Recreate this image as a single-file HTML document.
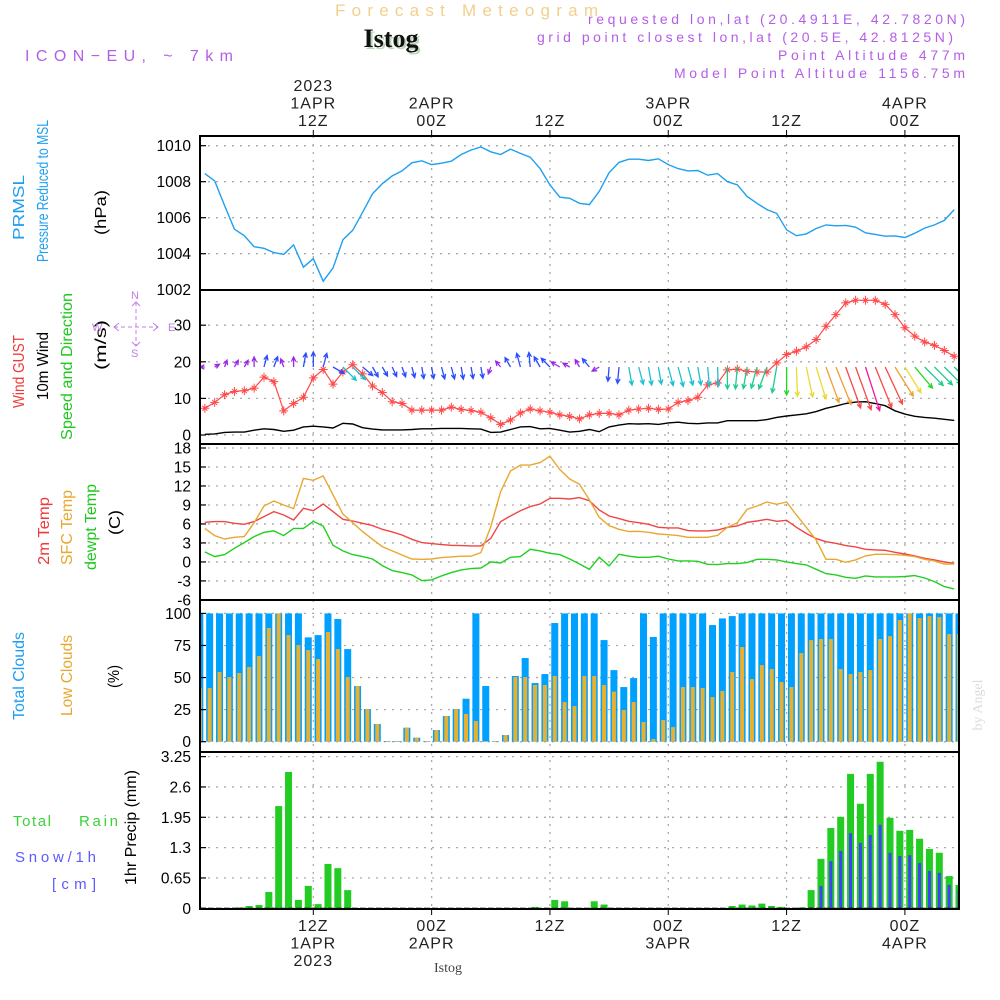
<!DOCTYPE html>
<html><head><meta charset="utf-8">
<style>
html,body{margin:0;padding:0;background:#fff;}
svg{display:block;font-family:"Liberation Sans",sans-serif;}
</style></head>
<body>
<svg id="chart" width="1000" height="1000" viewBox="0 0 1000 1000" xmlns="http://www.w3.org/2000/svg">
<defs>
<clipPath id="clip"><rect x="200" y="136" width="759" height="773"/></clipPath>
</defs>
<!-- header -->
<text x="335" y="16" font-size="17" fill="#f3cf8c" textLength="263" lengthAdjust="spacing">Forecast Meteogram</text>
<text x="393" y="49" text-anchor="middle" font-size="26" font-weight="bold" font-family="Liberation Serif,serif" fill="#bcd6bc">Istog</text>
<text x="391" y="47" text-anchor="middle" font-size="26" font-weight="bold" font-family="Liberation Serif,serif" fill="#111">Istog</text>
<text x="25" y="61" font-size="16" fill="#b45ee6" textLength="208" lengthAdjust="spacing">ICON−EU, ~ 7km</text>
<g font-size="14" fill="#b45ee6" lengthAdjust="spacing">
<text x="588" y="24" textLength="377" lengthAdjust="spacing">requested lon,lat (20.4911E, 42.7820N)</text>
<text x="537" y="42" textLength="416" lengthAdjust="spacing">grid point closest lon,lat (20.5E, 42.8125N)</text>
<text x="778" y="60" textLength="187" lengthAdjust="spacing">Point Altitude 477m</text>
<text x="674" y="78" textLength="291" lengthAdjust="spacing">Model Point Altitude 1156.75m</text>
</g>
<g id="plots"></g>
<g id="frame"></g>
<!-- left labels -->
<g font-size="16">
<text transform="translate(24,240) rotate(-90)" fill="#1e9ef0" textLength="65" lengthAdjust="spacingAndGlyphs">PRMSL</text>
<text transform="translate(48,262) rotate(-90)" fill="#1e9ef0" textLength="142" lengthAdjust="spacingAndGlyphs">Pressure Reduced to MSL</text>
<text transform="translate(106,235) rotate(-90)" fill="#000" textLength="45" lengthAdjust="spacingAndGlyphs">(hPa)</text>
</g>
<g font-size="16">
<text transform="translate(24,408) rotate(-90)" fill="#f03a3a" textLength="73" lengthAdjust="spacingAndGlyphs">Wind GUST</text>
<text transform="translate(48,400) rotate(-90)" fill="#000" textLength="68" lengthAdjust="spacingAndGlyphs">10m Wind</text>
<text transform="translate(72,440) rotate(-90)" fill="#1ec81e" textLength="147" lengthAdjust="spacingAndGlyphs">Speed and Direction</text>
<text transform="translate(106,370) rotate(-90)" fill="#000" textLength="50" lengthAdjust="spacingAndGlyphs">(m/s)</text>
</g>
<g fill="#c07ee8" stroke="#c07ee8" font-size="11">
<text x="92" y="331" stroke="none">W</text>
<text x="131" y="299" stroke="none">N</text>
<text x="131" y="357" stroke="none">S</text>
<text x="168" y="331" stroke="none">E</text>
<line x1="136" y1="302" x2="136" y2="346" stroke-dasharray="4,3"/>
<line x1="114" y1="327" x2="158" y2="327" stroke-dasharray="4,3"/>
<polyline points="119,323 114,327 119,331" fill="none"/>
<polyline points="153,323 158,327 153,331" fill="none"/>
<polyline points="132,306 136,302 140,306" fill="none"/>
<polyline points="132,342 136,346 140,342" fill="none"/>
</g>
<g font-size="16">
<text transform="translate(49,565) rotate(-90)" fill="#f03a3a" textLength="68" lengthAdjust="spacingAndGlyphs">2m Temp</text>
<text transform="translate(72,565) rotate(-90)" fill="#e8a830" textLength="75" lengthAdjust="spacingAndGlyphs">SFC Temp</text>
<text transform="translate(96,570) rotate(-90)" fill="#1ec81e" textLength="86" lengthAdjust="spacingAndGlyphs">dewpt Temp</text>
<text transform="translate(120,535) rotate(-90)" fill="#000" textLength="25" lengthAdjust="spacingAndGlyphs">(C)</text>
</g>
<g font-size="16">
<text transform="translate(24,720) rotate(-90)" fill="#1e9ef0" textLength="88" lengthAdjust="spacingAndGlyphs">Total Clouds</text>
<text transform="translate(72,716) rotate(-90)" fill="#e8a830" textLength="81" lengthAdjust="spacingAndGlyphs">Low Clouds</text>
<text transform="translate(119,688) rotate(-90)" fill="#000" textLength="23" lengthAdjust="spacingAndGlyphs">(%)</text>
</g>
<g font-size="15">
<text x="13" y="826" fill="#3cd23c" textLength="38" lengthAdjust="spacing">Total</text>
<text x="79" y="826" fill="#3cd23c" textLength="39" lengthAdjust="spacing">Rain</text>
<text x="15" y="862" fill="#5a5aff" textLength="81" lengthAdjust="spacing">Snow/1h</text>
<text x="52" y="889" fill="#5a5aff" textLength="44" lengthAdjust="spacing">[cm]</text>
<text transform="translate(136,885) rotate(-90)" fill="#000" font-size="16" textLength="115" lengthAdjust="spacingAndGlyphs">1hr Precip (mm)</text>
</g>
<text transform="translate(982,705) rotate(-90)" text-anchor="middle" font-size="14" font-family="Liberation Serif,serif" fill="#dcdcdc">by Angel</text>
<text x="448" y="972" text-anchor="middle" font-size="14" font-family="Liberation Serif,serif" fill="#444">Istog</text>
</svg>
<script>
// ---- data (hourly, h = 1..77 from 00Z 1 APR) ----
const pressure = [1008.45,1008.04,1006.67,1005.36,1005.0,1004.39,1004.3,1004.06,1003.96,1004.49,1003.25,1003.72,1002.47,1003.2,1004.77,1005.3,1006.3,1007.33,1007.89,1008.32,1008.6,1009.05,1009.16,1008.95,1009.03,1009.14,1009.51,1009.76,1009.93,1009.66,1009.51,1009.81,1009.57,1009.36,1008.73,1007.83,1007.14,1007.08,1006.8,1006.73,1007.46,1008.5,1009.07,1009.25,1009.25,1009.18,1009.27,1008.95,1008.73,1008.6,1008.62,1008.36,1008.45,1008.0,1007.83,1007.18,1006.8,1006.45,1006.24,1005.33,1005.0,1005.1,1005.4,1005.6,1005.55,1005.57,1005.47,1005.16,1005.07,1004.97,1004.99,1004.9,1005.14,1005.42,1005.6,1005.85,1006.45];
const gust = [7.3,8.9,11.0,11.9,12.1,12.8,15.8,14.6,6.6,8.6,10.3,15.6,17.9,13.9,17.2,19.2,16.7,13.4,11.6,9.1,8.6,6.8,6.8,6.8,6.8,7.6,7.0,6.7,6.2,4.7,2.9,4.1,6.0,7.1,6.6,6.2,5.5,5.1,4.4,5.5,5.9,5.9,5.5,6.8,7.1,7.3,7.0,7.1,8.9,9.4,10.3,13.7,14.2,17.8,18.0,17.4,17.2,17.2,19.7,22.0,22.9,24.1,26.1,29.7,32.9,36.1,36.8,36.8,36.8,35.7,32.9,29.3,27.0,25.4,24.5,23.1,21.5];
const wind10 = [0.2,0.3,0.7,0.8,0.8,1.3,1.7,1.5,1.0,1.3,2.2,2.4,2.2,1.9,3.2,3.0,2.0,1.6,1.4,1.4,1.4,1.5,1.7,1.7,1.8,1.8,1.8,1.7,1.6,0.7,0.8,1.5,2.2,2.3,1.7,1.8,1.3,0.8,1.0,1.5,0.9,2.2,2.7,3.1,3.0,3.1,2.9,3.3,3.5,3.2,3.1,3.3,3.3,3.9,3.9,3.9,3.9,4.2,4.8,5.2,5.5,5.8,6.4,7.3,7.9,8.6,9.0,9.1,8.6,8.0,6.6,5.7,5.1,4.8,4.6,4.3,4.0];
const windDir = [270,60,20,30,30,0,15,20,340,0,10,0,15,120,135,135,130,150,150,155,160,165,170,170,165,165,170,170,170,200,320,330,345,355,330,315,300,300,330,320,240,185,185,170,165,170,170,165,165,165,170,175,178,180,185,190,195,200,190,180,178,168,163,160,158,160,160,162,158,155,148,148,140,135,135,135,135];
const temp2m = [6.26,6.37,6.37,6.1,5.95,6.37,7.16,7.95,7.42,6.63,8.47,8.1,9.16,7.95,6.74,6.47,6.1,5.74,5.16,4.74,4.26,3.58,3.05,2.9,2.74,2.63,2.58,2.53,2.53,3.74,6.37,7.26,8.1,8.74,9.16,10.05,10.05,9.95,10.16,9.68,8.2,7.26,6.84,6.42,6.2,5.95,5.47,5.37,5.37,4.95,4.9,4.9,5.05,5.47,5.68,6.26,6.47,6.74,6.42,6.58,5.47,4.5,3.68,3.2,2.95,2.58,2.37,2.0,1.9,1.84,1.53,1.26,0.95,0.58,0.32,0.0,-0.21];
const tempSfc = [5.3,4.16,3.63,3.9,4.0,6.2,8.84,9.63,9.0,8.42,13.2,12.9,13.6,10.6,7.58,6.2,4.8,3.58,2.42,1.74,1.1,0.47,0.42,0.47,0.68,0.79,0.9,0.9,1.47,5.58,11.1,14.37,15.3,15.3,15.7,16.7,14.6,13.1,12.26,9.8,7.05,5.74,5.16,4.8,4.84,4.68,4.42,4.3,4.16,3.9,3.9,3.9,4.2,5.47,6.2,8.3,8.84,9.47,9.1,9.47,7.42,5.47,3.47,0.42,0.42,-0.05,0.32,0.95,1.21,1.21,1.16,1.05,0.84,0.42,0.16,-0.32,-0.32];
const dewpt = [1.58,0.84,1.16,2.16,3.05,4.0,4.68,4.9,4.16,5.3,5.3,6.4,5.68,2.63,1.74,1.16,0.84,0.47,-0.58,-1.37,-1.68,-2.05,-2.95,-2.84,-2.2,-1.68,-1.26,-1.05,-0.95,0.0,-0.16,0.74,0.84,2.0,1.74,1.37,1.16,0.47,-0.32,-1.16,0.74,-0.63,1.21,0.9,0.74,0.74,0.9,0.47,0.16,0.16,0.1,-0.37,-0.42,-0.26,-0.26,-0.1,0.42,0.42,0.32,0.0,-0.26,-0.47,-1.16,-1.84,-2.05,-2.42,-2.58,-2.2,-2.37,-2.37,-2.37,-2.3,-2.16,-2.53,-3.1,-3.9,-4.26];
// bars: index i = 0..77
const totalCloud = [100,100,100,100,100,100,100,100,100,100,100,81.3,83.1,100,95.6,72.2,43.4,25.5,13.8,0.5,0.5,10.9,3.1,0.5,9.1,20,25.5,33.5,100,43.4,0.5,5.2,51.2,65.2,45.7,52.7,92.5,100,100,100,100,79.2,55.8,42.6,49.6,100,81.6,100,100,100,100,100,90.9,96.1,97.9,100,100,100,100,100,100,100,100,100,100,100,100,100,100,100,100,100,100,100,100,100,100,100];
const lowCloud = [41.8,41.8,54.3,50.4,53.5,58.2,66.8,88.6,100,83.1,75.3,71.4,64.4,85.5,72.2,50.4,43.4,25.5,13.8,0.5,0.5,10.9,3.1,0.5,9.1,20,25.5,21.6,16.1,0.5,0.5,5.2,50.4,50.4,44.2,44.2,51.2,30.9,27.8,51.2,51.2,44.2,39,24.7,30.9,15.3,2.1,16.9,11.4,42.6,42.6,41.8,34.8,39.5,54.3,73.8,48.8,59.7,56.6,46.5,42.6,69.1,79.2,80,80,56.6,52.7,54.3,55.8,80,82.3,94.8,100,96.4,97.9,97.1,83.9,83.9];
const rain = [0,0,0,0,0.02,0.05,0.07,0.35,2.19,2.92,0.18,0.48,0.09,0.95,0.86,0.39,0,0,0,0,0,0,0,0,0,0,0,0,0,0,0,0,0,0,0.03,0,0.18,0.15,0,0,0.15,0.08,0,0,0,0,0,0,0,0,0,0,0,0,0.05,0.08,0.06,0.1,0.05,0.03,0,0.02,0.39,1.06,1.72,1.96,2.88,2.24,2.88,3.14,1.94,1.66,1.68,1.49,1.27,1.19,0.69,0.5];
const snow = [0,0,0,0,0,0,0,0,0,0,0,0,0,0,0,0,0,0,0,0,0,0,0,0,0,0,0,0,0,0,0,0,0,0,0,0,0,0,0,0,0,0,0,0,0,0,0,0,0,0,0,0,0,0,0,0,0,0,0,0,0,0,0.02,0.48,1.01,1.23,1.61,1.4,1.57,1.79,1.19,1.12,1.14,0.97,0.8,0.76,0.5,0.39];
const pressTicks = [1002,1004,1006,1008,1010];
const windTicks = [0,10,20,30];
const tempTicks = [-6,-3,0,3,6,9,12,15,18];
const cloudTicks = [0,25,50,75,100];
const precipTicks = [0,0.65,1.3,1.95,2.6,3.25];
const timeTicksH = [12,24,36,48,60,72];
const topLabels = [["2023","1APR","12Z"],["2APR","00Z"],["12Z"],["3APR","00Z"],["12Z"],["4APR","00Z"]];
const bottomLabels = [["12Z","1APR","2023"],["00Z","2APR"],["12Z"],["00Z","3APR"],["12Z"],["00Z","4APR"]];

// ---- scales ----
const X = h => 313.3 + (h - 12) * 9.86;
const barX = i => 199.8 + i * 9.86;
const yP = v => 145.7 + (1010 - v) * 18;
const yW = v => 435 - v * 3.66;
const yT = v => 448 + (18 - v) * 6.33;
const yC = v => 741.7 - v * 1.283;
const yR = v => 908.3 - v * 46.67;
const panels = [[136,290],[290,444],[444,600],[600,752],[752,909]];
const NS = "http://www.w3.org/2000/svg";
const plots = document.getElementById('plots');
const frame = document.getElementById('frame');
function mk(tag, attrs, parent){const e=document.createElementNS(NS,tag);for(const k in attrs)e.setAttribute(k,attrs[k]);(parent||plots).appendChild(e);return e;}

// grid
const grid = mk('g',{});


function hgrid(ticks, fy){ticks.forEach(t=>{mk('line',{x1:200,x2:959,y1:fy(t),y2:fy(t),stroke:'#aaa','stroke-width':1.3,'stroke-dasharray':'2,6'},grid);});}
hgrid(pressTicks,yP);hgrid(windTicks,yW);hgrid(tempTicks,yT);hgrid(cloudTicks,yC);hgrid(precipTicks,yR);
timeTicksH.forEach(h=>{mk('line',{x1:X(h),x2:X(h),y1:136,y2:909,stroke:'#aaa','stroke-width':1.3,'stroke-dasharray':'2,6'},grid);});

const clipG = mk('g',{'clip-path':'url(#clip)'});



function line(vals, fy, color, name, w){
  const p = vals.map((v,i)=>X(i+1).toFixed(1)+','+fy(v).toFixed(1)).join(' ');
  const e = mk('polyline',{points:p,fill:'none',stroke:color,'stroke-width':w||1.4},clipG);
  
  
}
line(pressure,yP,'#1ea0f0','pressure-line');
line(wind10,yW,'#000','wind-10m-line');
line(gust,yW,'#ff4a4a','wind-gust-line',1.2);
// gust markers
gust.forEach((v,i)=>{
  const cx=X(i+1), cy=yW(v);
  const m = mk('path',{d:`M${cx-4.5},${cy}H${cx+4.5}M${cx},${cy-4.5}V${cy+4.5}M${cx-2.5},${cy-2.5}L${cx+2.5},${cy+2.5}M${cx-2.5},${cy+2.5}L${cx+2.5},${cy-2.5}`,stroke:'#ff4a4a','stroke-width':1,fill:'none'},clipG);
  
  
});
// wind arrows
function arrowColor(s){
  if(s<1.4) return '#9a28e6';
  if(s<2.8) return '#2a4cff';
  if(s<3.8) return '#1cc0d0';
  if(s<5.0) return '#1ccc8c';
  if(s<5.4) return '#20d820';
  if(s<6.5) return '#e8dc30';
  if(s<7.95) return '#f0a030';
  if(s<9.05) return '#f84848';
  return '#f0189a';
}
windDir.forEach((d,i)=>{
  const s=wind10[i], x0=X(i+1), y0=367, L=4+4.6*s, a=d*Math.PI/180;
  const x1=x0+L*Math.sin(a), y1=y0-L*Math.cos(a);
  const hl=5, b1=a+Math.PI-0.45, b2=a+Math.PI+0.45;
  const c=arrowColor(s);
  const g=mk('path',{d:`M${x0.toFixed(1)},${y0}L${x1.toFixed(1)},${y1.toFixed(1)}M${(x1+hl*Math.sin(b1)).toFixed(1)},${(y1-hl*Math.cos(b1)).toFixed(1)}L${x1.toFixed(1)},${y1.toFixed(1)}L${(x1+hl*Math.sin(b2)).toFixed(1)},${(y1-hl*Math.cos(b2)).toFixed(1)}`,stroke:c,'stroke-width':1.3,fill:'none'},clipG);
  
  
});
line(temp2m,yT,'#f04545','temp-2m-line');
line(tempSfc,yT,'#e8a830','temp-sfc-line');
line(dewpt,yT,'#20d020','dewpoint-line');
// cloud bars
totalCloud.forEach((v,i)=>{
  const r=mk('rect',{x:barX(i)-3.5,y:yC(v),width:7,height:yC(0)-yC(v),fill:'#00a0ff'},clipG);
  
  
});
lowCloud.forEach((v,i)=>{
  const r=mk('rect',{x:barX(i)-2,y:yC(v),width:4,height:yC(0)-yC(v),fill:'#e8b030'},clipG);
  
  
});
rain.forEach((v,i)=>{
  if(v<=0) return;
  const r=mk('rect',{x:barX(i)-3.5,y:yR(v),width:7,height:yR(0)-yR(v),fill:'#22cc22'},clipG);
  
  
});
snow.forEach((v,i)=>{
  if(v<=0) return;
  const r=mk('rect',{x:barX(i)-1.5,y:yR(v),width:3,height:yR(0)-yR(v),fill:'#4040ff'},clipG);
  
  
});

// frame
panels.forEach(([t,b])=>{
  const r=mk('rect',{x:200,y:t,width:759,height:b-t,fill:'none',stroke:'#000','stroke-width':2},frame);
  
  
});
mk('line',{x1:200,x2:959,y1:908.5,y2:908.5,stroke:'#000','stroke-width':1.5,'stroke-dasharray':'6,2'},frame);
function yTicks(ticks,fy,name){
  ticks.forEach(t=>{
    mk('line',{x1:200,x2:206,y1:fy(t),y2:fy(t),stroke:'#000','stroke-width':1.2},frame);
    const tx=mk('text',{x:191,y:fy(t)+5.5,'text-anchor':'end','font-size':15.5,fill:'#000'},frame);
    tx.textContent=String(t);
    
    
  });
}
yTicks(pressTicks,yP,'pressure-tick-label');
yTicks(windTicks,yW,'wind-tick-label');
yTicks(tempTicks,yT,'temp-tick-label');
yTicks(cloudTicks,yC,'cloud-tick-label');
yTicks(precipTicks,yR,'precip-tick-label');
timeTicksH.forEach((h,k)=>{
  mk('line',{x1:X(h),x2:X(h),y1:130,y2:136,stroke:'#000','stroke-width':1},frame);
  mk('line',{x1:X(h),x2:X(h),y1:909,y2:915,stroke:'#000','stroke-width':1},frame);
  const top=topLabels[k];
  top.forEach((s,j)=>{
    const tx=mk('text',{x:X(h),y:126-(top.length-1-j)*17.5,'text-anchor':'middle','font-size':16,fill:'#222','letter-spacing':1},frame);
    tx.textContent=s;
    
    
  });
  bottomLabels[k].forEach((s,j)=>{
    const tx=mk('text',{x:X(h),y:931+j*17.5,'text-anchor':'middle','font-size':16,fill:'#222','letter-spacing':1},frame);
    tx.textContent=s;
    
    
  });
});
</script>
</body></html>
